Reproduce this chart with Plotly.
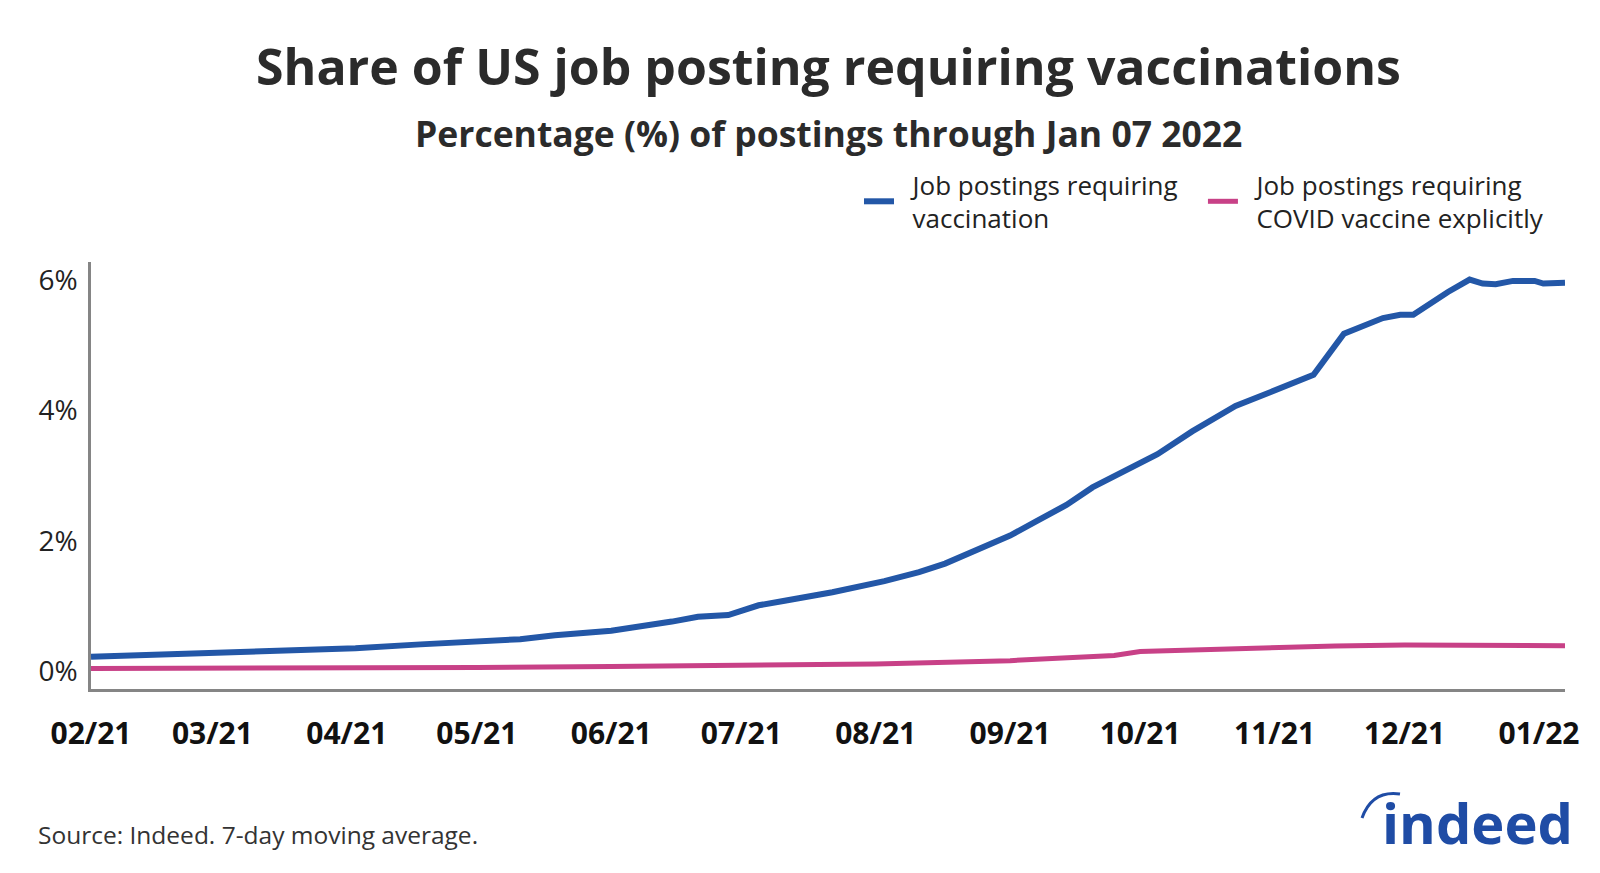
import plotly.graph_objects as go

# ---------------- data ----------------
vacc_dates = [
    "2021-02-01", "2021-03-03", "2021-04-03", "2021-04-18", "2021-05-11", "2021-05-19",
    "2021-06-01", "2021-06-15", "2021-06-21", "2021-06-28", "2021-07-05", "2021-07-11",
    "2021-07-22", "2021-08-03", "2021-08-11", "2021-08-17", "2021-08-26", "2021-09-01",
    "2021-09-07", "2021-09-14", "2021-09-20", "2021-09-27", "2021-10-05", "2021-10-13",
    "2021-10-23", "2021-10-31", "2021-11-06", "2021-11-10", "2021-11-17", "2021-11-21",
    "2021-11-26", "2021-11-30", "2021-12-03", "2021-12-11", "2021-12-16", "2021-12-19",
    "2021-12-22", "2021-12-26", "2021-12-31", "2022-01-02", "2022-01-07",
]
vacc_values = [
    0.22, 0.285, 0.35, 0.41, 0.49, 0.55,
    0.62, 0.76, 0.835, 0.86, 1.01, 1.08,
    1.21, 1.38, 1.52, 1.65, 1.92, 2.08,
    2.30, 2.55, 2.82, 3.05, 3.33, 3.68,
    4.07, 4.28, 4.45, 4.55, 5.18, 5.28,
    5.42, 5.47, 5.47, 5.82, 6.01, 5.95,
    5.94, 5.99, 5.99, 5.95, 5.96,
]

covid_dates = [
    "2021-02-01", "2021-03-01", "2021-04-01", "2021-05-01", "2021-06-01", "2021-07-01",
    "2021-08-01", "2021-09-01", "2021-09-15", "2021-09-25", "2021-10-01", "2021-10-15",
    "2021-11-01", "2021-11-15", "2021-12-01", "2021-12-15", "2022-01-07",
]
covid_values = [
    0.04, 0.04, 0.045, 0.055, 0.07, 0.09,
    0.11, 0.16, 0.20, 0.24, 0.30, 0.33,
    0.36, 0.385, 0.40, 0.40, 0.39,
]

NB = "\u00a0"
series_names = [NB * 2 + "Job postings requiring" + NB * 3 + "<br>" + NB * 2 + "vaccination",
                NB * 2 + "Job postings requiring<br>" + NB * 2 + "COVID vaccine explicitly"]
y_tick_values = [0, 2, 4, 6]
y_tick_labels = ["0%", "2%", "4%", "6%"]

title_text = "Share of US job posting requiring vaccinations"
subtitle_text = "Percentage (%) of postings through Jan 07 2022"
source_text = "Source: Indeed. 7-day moving average."

# ---------------- layout helpers ----------------
W, H = 1600, 873
L, R, T, B = 83, 43, 254, 192
PW, PH = W - L - R, H - T - B


def px(x):
    return (x - L) / PW


def py(y):
    return (H - B - y) / PH


BLUE = "#2357A7"
PINK = "#C84187"
LOGO = "#1F4CA5"
FONT = "Open Sans"

fig = go.Figure()
fig.add_trace(go.Scatter(x=vacc_dates, y=vacc_values, mode="lines",
                         name=series_names[0],
                         line=dict(color=BLUE, width=6)))
fig.add_trace(go.Scatter(x=covid_dates, y=covid_values, mode="lines",
                         name=series_names[1],
                         line=dict(color=PINK, width=5)))

fig.update_layout(
    width=W, height=H,
    margin=dict(l=L, r=R, t=T, b=B, autoexpand=False),
    paper_bgcolor="white", plot_bgcolor="white",
    font=dict(family=FONT, color="#222222"),
    showlegend=True,
    legend=dict(orientation="h", x=px(851), xanchor="left", y=py(153), yanchor="top",
                font=dict(size=26, color="#222222", family=FONT),
                bgcolor="rgba(0,0,0,0)", traceorder="normal"),
    xaxis=dict(type="date", range=["2021-02-01", "2022-01-07"],
               tick0="2021-02-01", dtick="M1", tickformat="%m/%y",
               showgrid=False, zeroline=False,
               showline=True, linecolor="#858585", linewidth=2.5,
               ticks="outside", ticklen=16, tickcolor="rgba(0,0,0,0)",
               tickfont=dict(size=30, color="#111111", family=FONT, weight="bold")),
    yaxis=dict(range=[-0.275, 6.28], tickvals=y_tick_values, ticktext=y_tick_labels,
               showgrid=False, zeroline=False,
               showline=True, linecolor="#858585", linewidth=2.5,
               ticks="outside", ticklen=5, tickcolor="rgba(0,0,0,0)",
               tickfont=dict(size=28, color="#222222", family=FONT)),
)

fig.add_annotation(xref="paper", yref="paper", x=0.5, y=py(58), text=title_text,
                   showarrow=False, xanchor="center", yanchor="middle",
                   font=dict(size=50, color="#2b2b2b", family=FONT, weight="bold"))
fig.add_annotation(xref="paper", yref="paper", x=0.5, y=py(125), text=subtitle_text,
                   showarrow=False, xanchor="center", yanchor="middle",
                   font=dict(size=35.5, color="#2b2b2b", family=FONT, weight="bold"))
fig.add_annotation(xref="paper", yref="paper", x=px(28), y=py(826), text=source_text,
                   showarrow=False, xanchor="left", yanchor="middle",
                   font=dict(size=24.5, color="#333333", family=FONT))
# logo
fig.add_annotation(xref="paper", yref="paper", x=px(1567), y=py(814), text="indeed",
                   showarrow=False, xanchor="right", yanchor="middle",
                   font=dict(size=56, color=LOGO, family=FONT, weight="bold"))
fig.add_shape(type="path", xref="paper", yref="paper",
              path=f"M {px(1354)},{py(810)} Q {px(1364)},{py(782)} {px(1392)},{py(786)}",
              line=dict(color=LOGO, width=3))

fig.write_html("out.html")
